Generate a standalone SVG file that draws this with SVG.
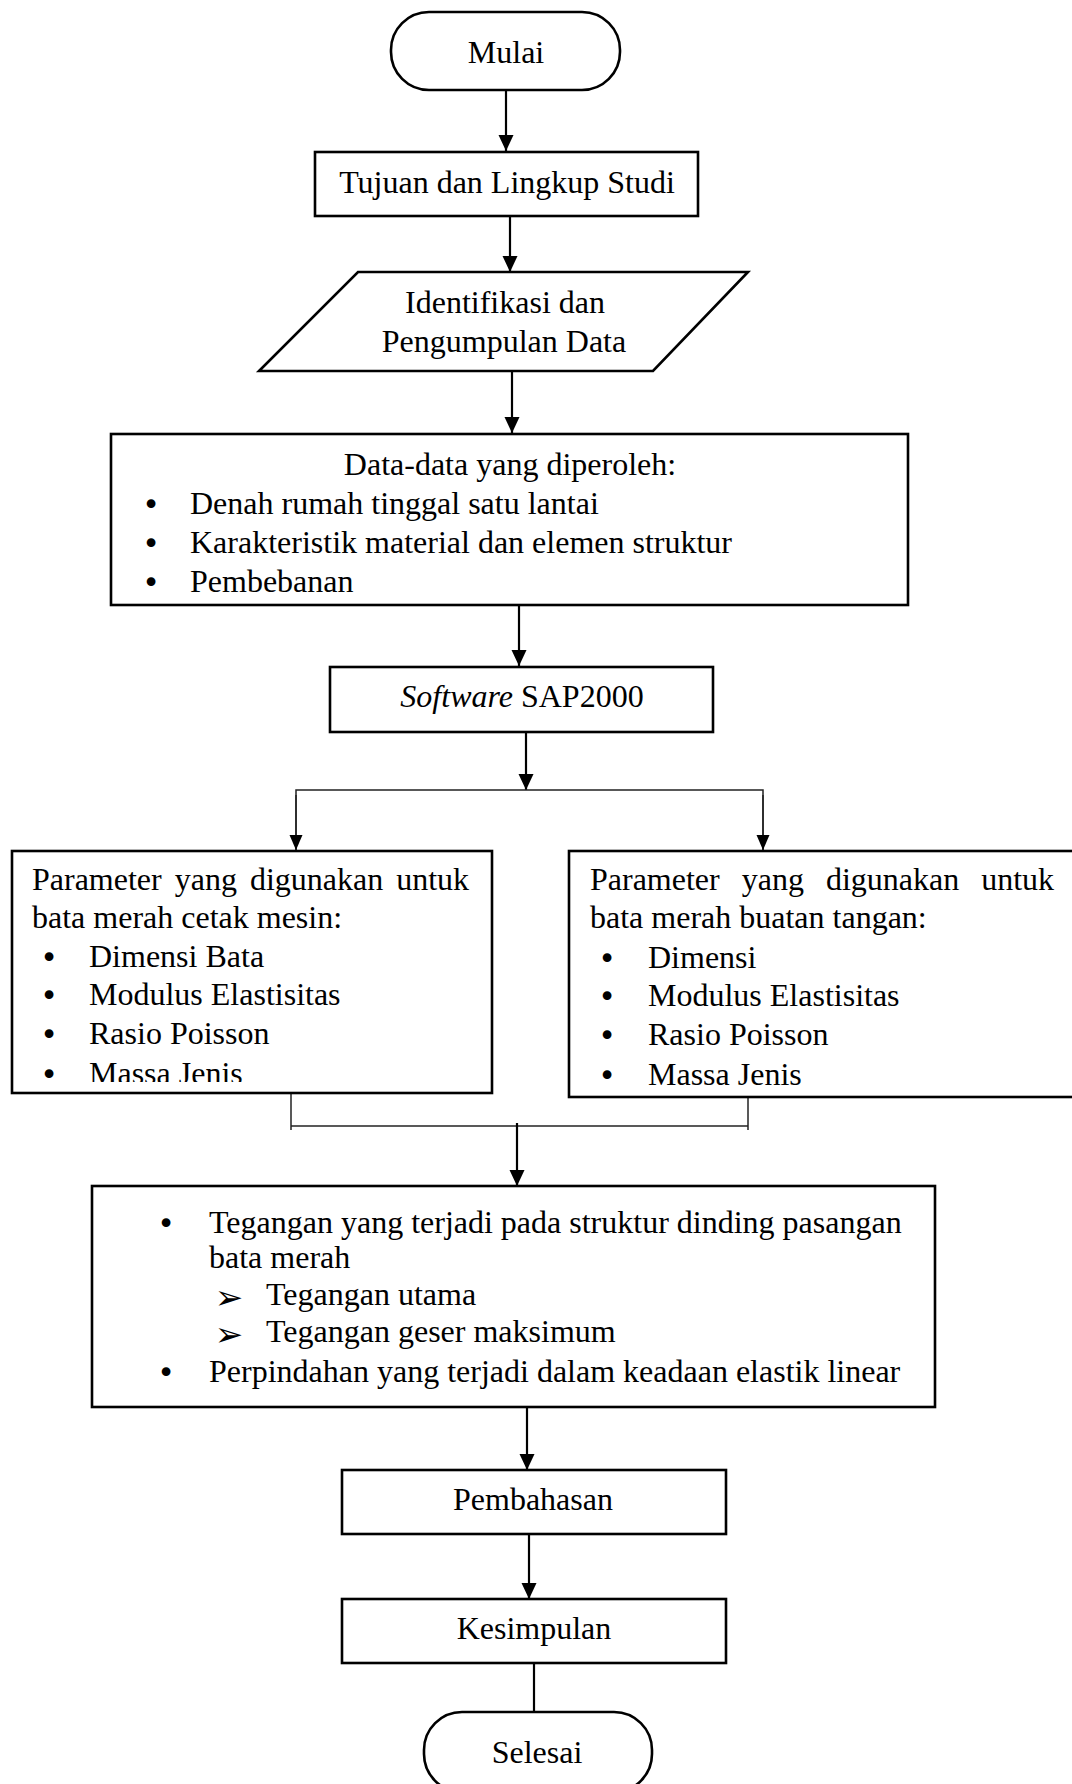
<svg xmlns="http://www.w3.org/2000/svg" width="1072" height="1784" viewBox="0 0 1072 1784">
<style>
text{font-family:"Liberation Serif","Times New Roman",serif;font-size:32px;fill:#000}
.c{text-anchor:middle}
.b{text-anchor:middle;font-family:"DejaVu Sans",sans-serif;font-size:30px}
.ar{font-family:"DejaVu Sans",sans-serif;font-size:34px;text-anchor:middle}
.box{fill:#fff;stroke:#000;stroke-width:2.6}
.ln{fill:none;stroke:#000;stroke-width:2.2}
.thin{fill:none;stroke:#222;stroke-width:1.5}
</style>
<defs>
<marker id="ah" markerUnits="userSpaceOnUse" markerWidth="16" markerHeight="16" viewBox="0 0 16 16" refX="16" refY="8" orient="auto">
<path d="M0,0.5 L16,8 L0,15.5 z" fill="#000"/>
</marker>
<marker id="ahs" markerUnits="userSpaceOnUse" markerWidth="15" markerHeight="14" viewBox="0 0 15 14" refX="15" refY="7" orient="auto">
<path d="M0,0.5 L15,7 L0,13.5 z" fill="#000"/>
</marker>
<clipPath id="clipL"><rect x="0" y="850" width="500" height="232"/></clipPath>
</defs>
<rect width="1072" height="1784" fill="#fff"/>

<g id="connectors">
<line class="ln" x1="506" y1="90" x2="506" y2="151" marker-end="url(#ah)"/>
<line class="ln" x1="510" y1="216" x2="510" y2="272" marker-end="url(#ah)"/>
<line class="ln" x1="512" y1="371" x2="512" y2="433" marker-end="url(#ah)"/>
<line class="ln" x1="519" y1="605" x2="519" y2="666" marker-end="url(#ah)"/>
<line class="ln" x1="526" y1="732" x2="526" y2="790" marker-end="url(#ah)"/>
<polyline class="thin" points="296,850 296,790 763,790 763,850"/>
<line class="thin" x1="296" y1="795" x2="296" y2="850" marker-end="url(#ahs)"/>
<line class="thin" x1="763" y1="795" x2="763" y2="850" marker-end="url(#ahs)"/>
<polyline class="thin" points="291,1093 291,1130"/>
<polyline class="thin" points="748,1097 748,1130"/>
<line class="thin" x1="291" y1="1126" x2="748" y2="1126"/>
<line class="ln" x1="517" y1="1123" x2="517" y2="1186" marker-end="url(#ah)"/>
<line class="ln" x1="527" y1="1407" x2="527" y2="1470" marker-end="url(#ah)"/>
<line class="ln" x1="529" y1="1534" x2="529" y2="1599" marker-end="url(#ah)"/>
<line class="ln" x1="534" y1="1663" x2="534" y2="1712"/>
</g>

<g id="mulai">
<rect class="box" x="391" y="12" width="229" height="78" rx="38" ry="38"/>
<text class="c" x="506" y="63">Mulai</text>
</g>

<g id="tujuan">
<rect class="box" x="315" y="152" width="383" height="64"/>
<text class="c" x="507" y="193">Tujuan dan Lingkup Studi</text>
</g>

<g id="identifikasi">
<polygon class="box" points="358,272 748,272 653,371 259,371"/>
<text class="c" x="505" y="313">Identifikasi dan</text>
<text class="c" x="504" y="352">Pengumpulan Data</text>
</g>

<g id="data">
<rect class="box" x="111" y="434" width="797" height="171"/>
<text class="c" x="510" y="475">Data-data yang diperoleh:</text>
<text class="b" x="151" y="515">•</text>
<text x="190" y="514">Denah rumah tinggal satu lantai</text>
<text class="b" x="151" y="554">•</text>
<text x="190" y="553">Karakteristik material dan elemen struktur</text>
<text class="b" x="151" y="593">•</text>
<text x="190" y="592">Pembebanan</text>
</g>

<g id="software">
<rect class="box" x="330" y="667" width="383" height="65"/>
<text class="c" x="522" y="707"><tspan font-style="italic">Software</tspan> SAP2000</text>
</g>

<g id="param-mesin">
<rect class="box" x="12" y="851" width="480" height="242"/>
<g clip-path="url(#clipL)">
<text x="32" y="890" word-spacing="5">Parameter yang digunakan untuk</text>
<text x="32" y="928">bata merah cetak mesin:</text>
<text class="b" x="49" y="968">•</text>
<text x="89" y="967">Dimensi Bata</text>
<text class="b" x="49" y="1006">•</text>
<text x="89" y="1005">Modulus Elastisitas</text>
<text class="b" x="49" y="1045">•</text>
<text x="89" y="1044">Rasio Poisson</text>
<text class="b" x="49" y="1085">•</text>
<text x="89" y="1084">Massa Jenis</text>
</g>
</g>

<g id="param-tangan">
<rect class="box" x="569" y="851" width="510" height="246"/>
<text x="590" y="890" word-spacing="14">Parameter yang digunakan untuk</text>
<text x="590" y="928">bata merah buatan tangan:</text>
<text class="b" x="607" y="969">•</text>
<text x="648" y="968">Dimensi</text>
<text class="b" x="607" y="1007">•</text>
<text x="648" y="1006">Modulus Elastisitas</text>
<text class="b" x="607" y="1046">•</text>
<text x="648" y="1045">Rasio Poisson</text>
<text class="b" x="607" y="1086">•</text>
<text x="648" y="1085">Massa Jenis</text>
</g>

<g id="hasil">
<rect class="box" x="92" y="1186" width="843" height="221"/>
<text class="b" x="166" y="1234">•</text>
<text x="209" y="1233">Tegangan yang terjadi pada struktur dinding pasangan</text>
<text x="209" y="1268">bata merah</text>
<text class="ar" x="229" y="1309">➢</text>
<text x="266" y="1305">Tegangan utama</text>
<text class="ar" x="229" y="1346">➢</text>
<text x="266" y="1342">Tegangan geser maksimum</text>
<text class="b" x="166" y="1383">•</text>
<text x="209" y="1382">Perpindahan yang terjadi dalam keadaan elastik linear</text>
</g>

<g id="pembahasan">
<rect class="box" x="342" y="1470" width="384" height="64"/>
<text class="c" x="533" y="1510">Pembahasan</text>
</g>

<g id="kesimpulan">
<rect class="box" x="342" y="1599" width="384" height="64"/>
<text class="c" x="534" y="1639">Kesimpulan</text>
</g>

<g id="selesai">
<rect class="box" x="424" y="1712" width="228" height="80" rx="38" ry="38"/>
<text class="c" x="537" y="1763">Selesai</text>
</g>
</svg>
